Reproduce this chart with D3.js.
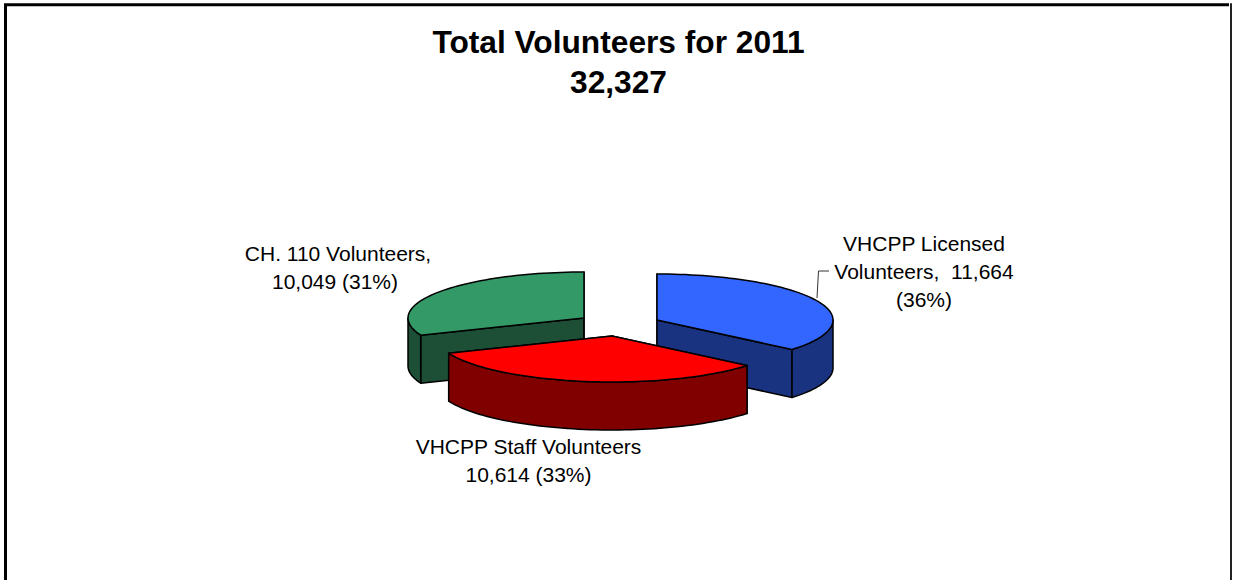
<!DOCTYPE html>
<html>
<head>
<meta charset="utf-8">
<script src="https://cdn.jsdelivr.net/npm/d3@7"></script>
<style>
  html, body { margin: 0; background: #fff; }
  svg { display: block; }
  text { font-family: "Liberation Sans", Arial, sans-serif; fill: #000; }
</style>
</head>
<body>
<svg id="chart" width="1233" height="580"></svg>
<script>
const categories = ['VHCPP Licensed Volunteers', 'VHCPP Staff Volunteers', 'CH. 110 Volunteers'];
const values = [11664, 10614, 10049];
const topColors = ['#3366ff', '#ff0000', '#339966'];
const sideColors = ['#1a3380', '#800000', '#1c4f35'];
const titleLines = ['Total Volunteers for 2011', '32,327'];
const labelLines = [
  ['VHCPP Licensed', 'Volunteers,  11,664', '(36%)'],
  ['VHCPP Staff Volunteers', '10,614 (33%)'],
  ['CH. 110 Volunteers,', '10,049 (31%)']
];

const svg = d3.select('#chart');
const W = 1233, H = 580;

// chart frame, bottom edge runs off the picture
svg.append('path')
  .attr('d', `M5.5,${H + 5}V4.7H1229`)
  .attr('fill', 'none').attr('stroke', '#000').attr('stroke-width', 3);
svg.append('line')
  .attr('x1', 1231).attr('x2', 1231).attr('y1', 3.2).attr('y2', H)
  .attr('stroke', '#222').attr('stroke-width', 2);

svg.append('g').selectAll('text')
  .data(titleLines)
  .join('text')
  .attr('x', 618.5)
  .attr('y', (d, i) => 53 + i * 40)
  .attr('text-anchor', 'middle')
  .attr('font-size', 31.7)
  .attr('font-weight', 'bold')
  .text(d => d);

// exploded slice apexes, tilted pie
const rx = 176, ry = 46, depth = 48;
const apex = [[657, 320], [612, 336], [584, 318]];
const labelPos = [[924, 251], [528.5, 454], [338, 261]];
const labelDx = [[0, 0, 0], [0, 0], [0, -3]];

const sliceData = d3.pie().sort(null)(values);
// the back slices go first, red sits on top of both
const drawOrder = [2, 0, 1];

function project(i, a, down) {
  const x = d3.scaleLinear().domain([-1, 1]).range([apex[i][0] - rx, apex[i][0] + rx]);
  const y = d3.scaleLinear().domain([-1, 1]).range([apex[i][1] + ry, apex[i][1] - ry]);
  return [x(Math.sin(a)), y(Math.cos(a)) + (down ? depth : 0)];
}

const line = d3.line();

function arcPoints(i, a0, a1, down) {
  const n = Math.max(2, Math.ceil((a1 - a0) * 30));
  return d3.range(n + 1).map(k => project(i, a0 + (a1 - a0) * k / n, down));
}

const pies = svg.append('g').attr('stroke', '#000').attr('stroke-width', 1.5).attr('stroke-linejoin', 'round');

drawOrder.forEach(i => {
  const d = sliceData[i];
  const g = pies.append('g');
  const c = apex[i];
  const cDown = [c[0], c[1] + depth];

  // radial walls
  [d.startAngle, d.endAngle].forEach(a => {
    g.append('path')
      .attr('d', line([c, project(i, a, false), project(i, a, true), cDown]) + 'Z')
      .attr('fill', sideColors[i]);
  });

  // rim, only the front half of the ellipse shows
  const a0 = Math.max(d.startAngle, Math.PI / 2);
  const a1 = Math.min(d.endAngle, Math.PI * 1.5);
  if (a1 > a0) {
    const pts = arcPoints(i, a0, a1, false).concat(arcPoints(i, a0, a1, true).reverse());
    g.append('path').attr('d', line(pts) + 'Z').attr('fill', sideColors[i]);
  }

  // top face
  const top = [c].concat(arcPoints(i, d.startAngle, d.endAngle, false));
  g.append('path').attr('d', line(top) + 'Z').attr('fill', topColors[i]);
});

// leader for the blue slice
svg.append('path')
  .attr('d', line([[817, 298], [818.5, 271], [829, 271]]))
  .attr('fill', 'none').attr('stroke', '#333').attr('stroke-width', 1);

labelLines.forEach((lines, i) => {
  svg.append('g').selectAll('text')
    .data(lines)
    .join('text')
    .attr('x', (d, k) => labelPos[i][0] + labelDx[i][k])
    .attr('y', (d, k) => labelPos[i][1] + k * 28)
    .attr('text-anchor', 'middle')
    .attr('font-size', 21)
    .style('white-space', 'pre')
    .text(d => d);
});
</script>
</body>
</html>
